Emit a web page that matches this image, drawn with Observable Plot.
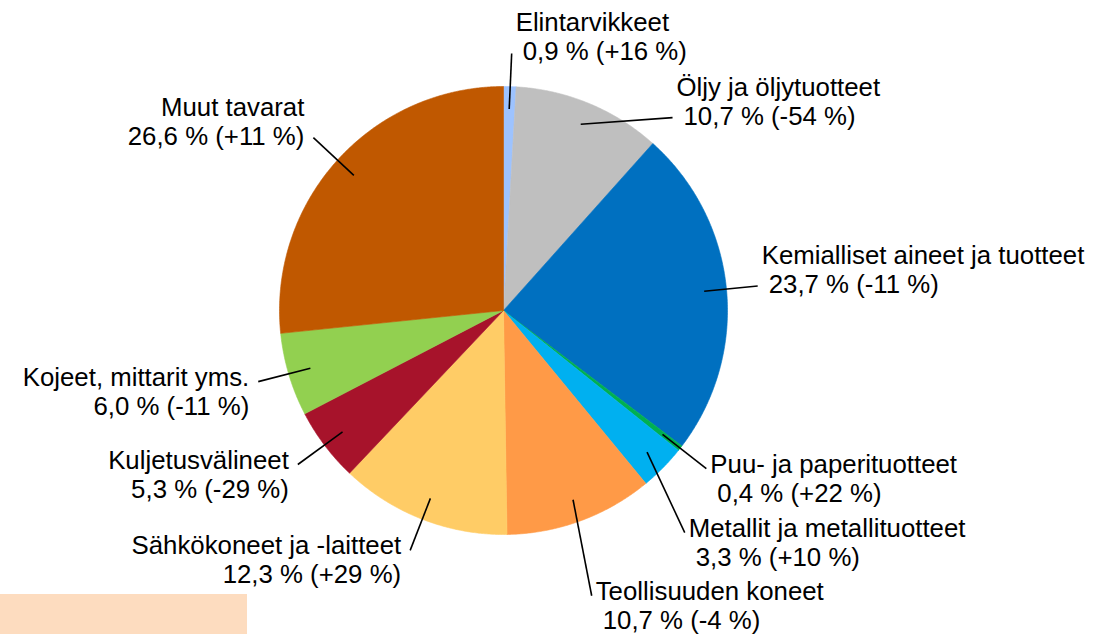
<!DOCTYPE html>
<html><head><meta charset="utf-8">
<script src="https://cdn.jsdelivr.net/npm/d3@7"></script>
<script src="https://cdn.jsdelivr.net/npm/@observablehq/plot@0.6"></script>
<style>
html,body{margin:0;padding:0;background:#fff;overflow:hidden}
#wrap{position:relative;width:1097px;height:634px}
#note{position:absolute;left:0;top:594px;width:247px;height:40px;background:#FDDCBF}
</style></head><body><div id="wrap"><div id="chart"></div><div id="note"></div></div>
<script>
// ---- data ----
const categories = ["Elintarvikkeet","Öljy ja öljytuotteet","Kemialliset aineet ja tuotteet","Puu- ja paperituotteet","Metallit ja metallituotteet","Teollisuuden koneet","Sähkökoneet ja -laitteet","Kuljetusvälineet","Kojeet, mittarit yms.","Muut tavarat"];
const shares = [0.9, 10.7, 23.7, 0.4, 3.3, 10.7, 12.3, 5.3, 6.0, 26.6];
const changes = [16, -54, -11, 22, 10, -4, 29, -29, -11, 11];
const colors = ["#9DC3FF","#BFBFBF","#0070C0","#00B050","#00B0F0","#FF9A47","#FFCC66","#A7132B","#92D050","#C05800"];

// ---- layout ----
const W = 1097, H = 634, CX = 503, CY = 310, R = 224;
const labelRadius = [1.148, 1.145, 1.14, 1.148, 1.28, 1.333, 1.149, 1.147, 1.14, 1.147];
const labelAngleShift = [0.2, 18.7, 0, 0, 6.2, 3.0, 0, 0.2, 0.5, 0.2];

const fmt = v => v.toFixed(1).replace(".", ",");
const total = d3.sum(shares);
let cum = 0;
const slices = categories.map((name, i) => {
  const a0 = cum / total * 360; cum += shares[i];
  const a1 = cum / total * 360;
  return {name, i, a0, a1, mid: (a0 + a1) / 2, color: colors[i]};
});
const rad = a => a * Math.PI / 180;
// polygon points per slice
const pts = [];
for (const s of slices) {
  pts.push({name: s.name, color: s.color, x: 0, y: 0});
  const n = Math.max(2, Math.ceil((s.a1 - s.a0) / 0.4));
  for (let k = 0; k <= n; k++) {
    const a = rad(s.a0 + (s.a1 - s.a0) * k / n);
    pts.push({name: s.name, color: s.color, x: Math.sin(a), y: Math.cos(a)});
  }
  pts.push({name: s.name, color: s.color, x: 0, y: 0});
}
// leaders and labels
const labels = slices.map(s => {
  const am = rad(s.mid);
  const ao = rad(s.mid + labelAngleShift[s.i]);
  const ro = labelRadius[s.i];
  const ox = ro * Math.sin(ao), oy = ro * Math.cos(ao);
  const right = Math.sin(ao) >= -0.001;
  const above = Math.cos(ao) > 0;
  const y1 = oy - (above ? -22 : 4) / R;
  const y2 = y1 - 29 / R;
  return {
    name: s.name,
    value: `${fmt(shares[s.i])} % (${changes[s.i] > 0 ? "+" : ""}${changes[s.i]} %)`,
    ix: 0.9 * Math.sin(am), iy: 0.9 * Math.cos(am), ox, oy,
    right,
    tx1: ox + (right ? 4 : -9) / R,
    tx2: ox + (right ? 11 : -9) / R,
    y1, y2
  };
});
const L = labels.filter(d => !d.right), Rt = labels.filter(d => d.right);

const chart = Plot.plot({
  width: W, height: H, margin: 0,
  x: {domain: [-CX / R, (W - CX) / R], axis: null},
  y: {domain: [(CY - H) / R, CY / R], axis: null},
  color: {type: "identity"},
  style: {fontFamily: "'Liberation Sans', Arial, sans-serif", fontSize: "25.8px", color: "#000", background: "transparent"},
  marks: [
    Plot.line(pts, {x: "x", y: "y", z: "name", fill: "color", stroke: "color", strokeWidth: 0.6, curve: "linear"}),
    Plot.link(labels, {x1: "ix", y1: "iy", x2: "ox", y2: "oy", stroke: "#000", strokeWidth: 1.6}),
    Plot.text(Rt, {x: "tx1", y: "y1", text: "name", textAnchor: "start", lineAnchor: "bottom", fill: "#000"}),
    Plot.text(Rt, {x: "tx2", y: "y2", text: "value", textAnchor: "start", lineAnchor: "bottom", fill: "#000"}),
    Plot.text(L, {x: "tx1", y: "y1", text: "name", textAnchor: "end", lineAnchor: "bottom", fill: "#000"}),
    Plot.text(L, {x: "tx2", y: "y2", text: "value", textAnchor: "end", lineAnchor: "bottom", fill: "#000"})
  ]
});
document.getElementById("chart").appendChild(chart);
</script></body></html>
